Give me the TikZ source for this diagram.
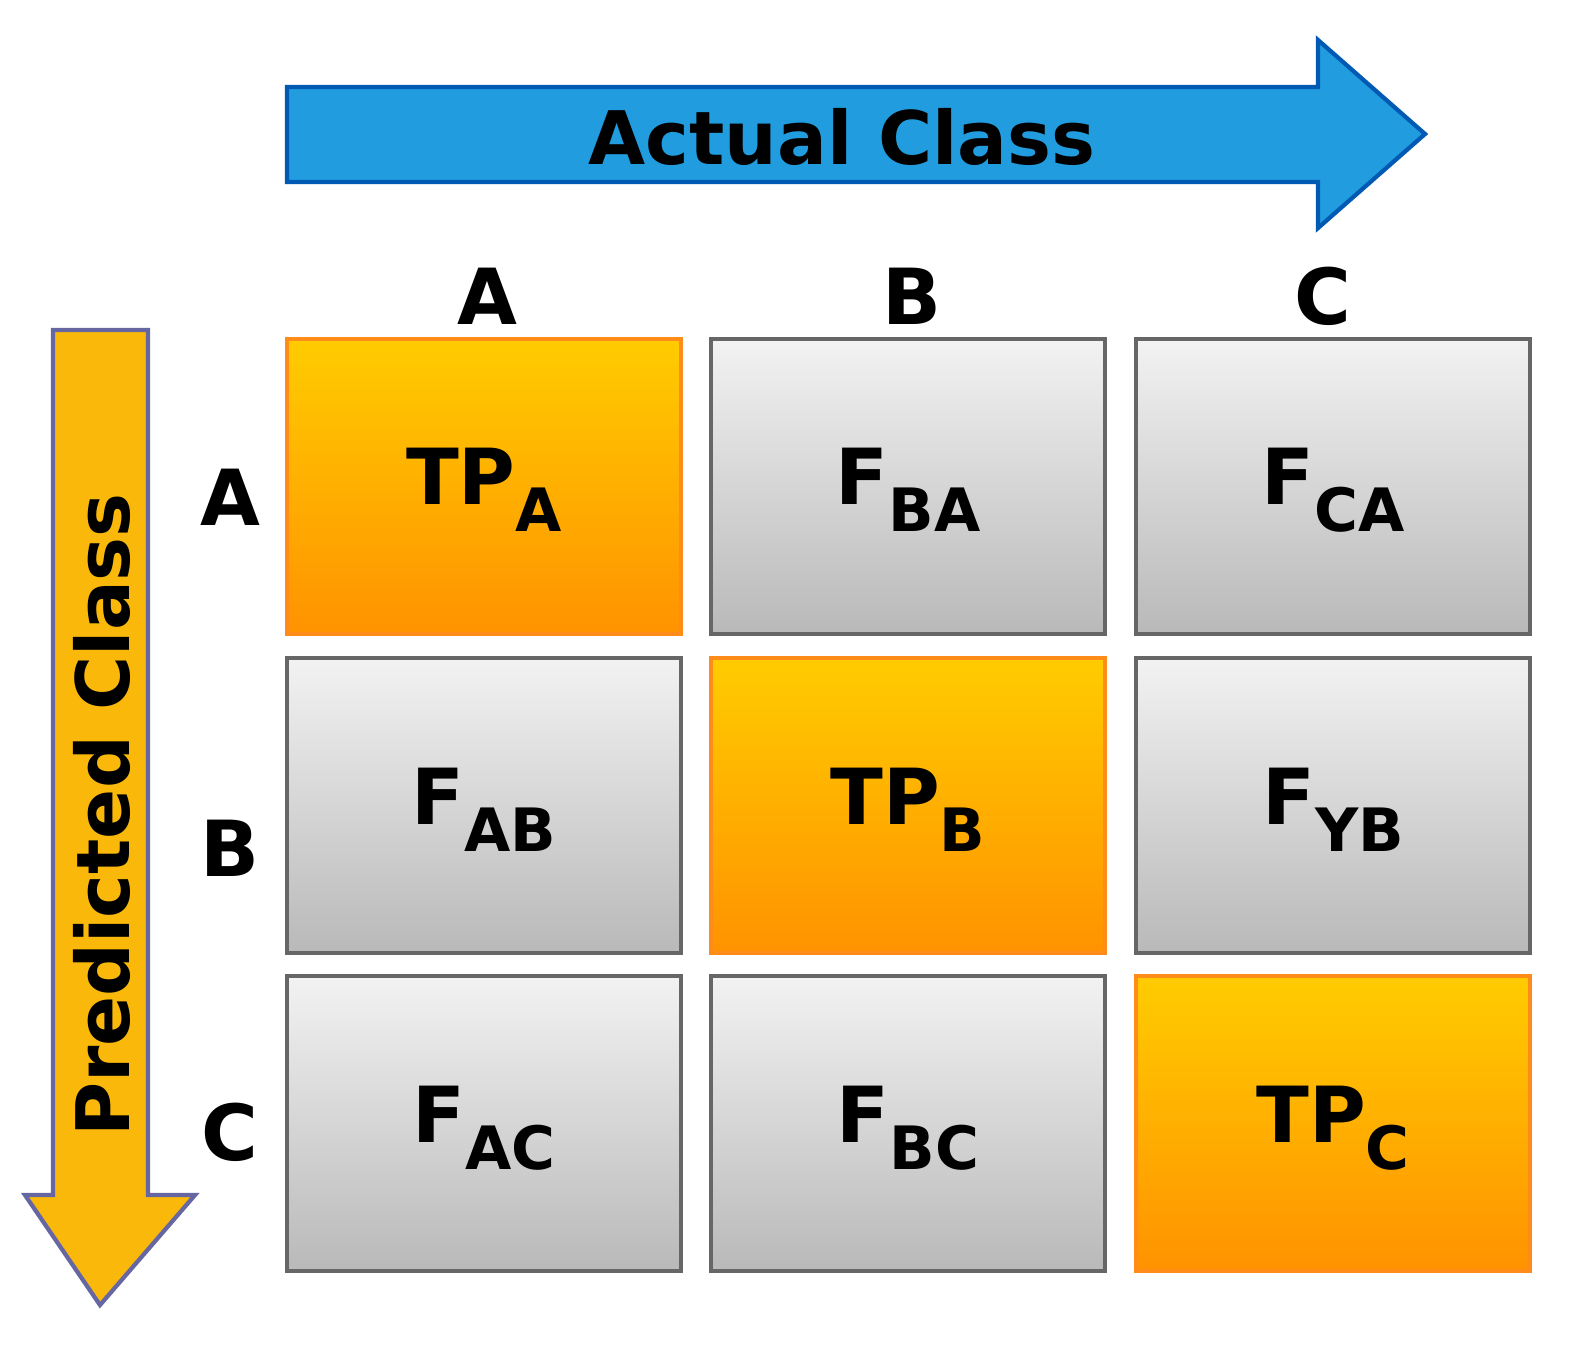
\documentclass[tikz,border=0pt]{standalone}
\usepackage{fontspec}
\setmainfont{DejaVu Sans}
\usetikzlibrary{shapes.arrows}
\begin{document}
\begin{tikzpicture}[x=0.01cm,y=-0.01cm,
  gcell/.style={draw=gray!80!black,line width=1.2pt,top color=gray!10,bottom color=gray!55},
  ocell/.style={draw=orange!90,line width=1.2pt,top color=yellow!60!orange!100,bottom color=orange!85!yellow},
  lab/.style={font=\fontsize{22}{22}\selectfont\bfseries}]
\useasboundingbox (0,0) rectangle (1586,1350);
\newcommand{\sbs}[2]{#1\raisebox{-0.35em}{\fontsize{17}{17}\selectfont #2}}
% top arrow
\draw[fill=cyan!80!blue!90,draw=blue!50!cyan!70!black,line width=1.2pt]
 (287,87) -- (1318,87) -- (1318,40) -- (1425,134) -- (1318,228) -- (1318,182) -- (287,182) -- cycle;
\node[font=\fontsize{21}{21}\selectfont\bfseries] (ac) at (842,137) {Actual Class};
% left arrow
\draw[fill=yellow!40!orange!90!yellow,draw=blue!40!black!60,line width=1.2pt]
 (53,330) -- (148,330) -- (148,1195) -- (195,1195) -- (100,1305) -- (25,1195) -- (53,1195) -- cycle;
\node[font=\fontsize{21}{21}\selectfont\bfseries,rotate=90] (pc) at (102,815) {Predicted Class};
% column labels
\node[lab] (ca) at (487,296) {A};
\node[lab] (cb) at (912,296) {B};
\node[lab] (cc) at (1323,296) {C};
\node[lab] (ra) at (230,497) {A};
\node[lab] (rb) at (230,848) {B};
\node[lab] (rc) at (230,1132) {C};
% cells
\draw[ocell] (287,339) rectangle (681,634);
\draw[gcell] (711,339) rectangle (1105,634);
\draw[gcell] (1136,339) rectangle (1530,634);
\draw[gcell] (287,658) rectangle (681,953);
\draw[ocell] (711,658) rectangle (1105,953);
\draw[gcell] (1136,658) rectangle (1530,953);
\draw[gcell] (287,976) rectangle (681,1271);
\draw[gcell] (711,976) rectangle (1105,1271);
\draw[ocell] (1136,976) rectangle (1530,1271);
\node[lab] (t1) at (484,490) {\sbs{TP}{A}};
\node[lab] (t2) at (908,490) {\sbs{F}{BA}};
\node[lab] (t3) at (1333,490) {\sbs{F}{CA}};
\node[lab] (t4) at (484,810) {\sbs{F}{AB}};
\node[lab] (t5) at (908,810) {\sbs{TP}{B}};
\node[lab] (t6) at (1333,810) {\sbs{F}{YB}};
\node[lab] (t7) at (484,1128) {\sbs{F}{AC}};
\node[lab] (t8) at (908,1128) {\sbs{F}{BC}};
\node[lab] (t9) at (1333,1128) {\sbs{TP}{C}};
\end{tikzpicture}
\end{document}
